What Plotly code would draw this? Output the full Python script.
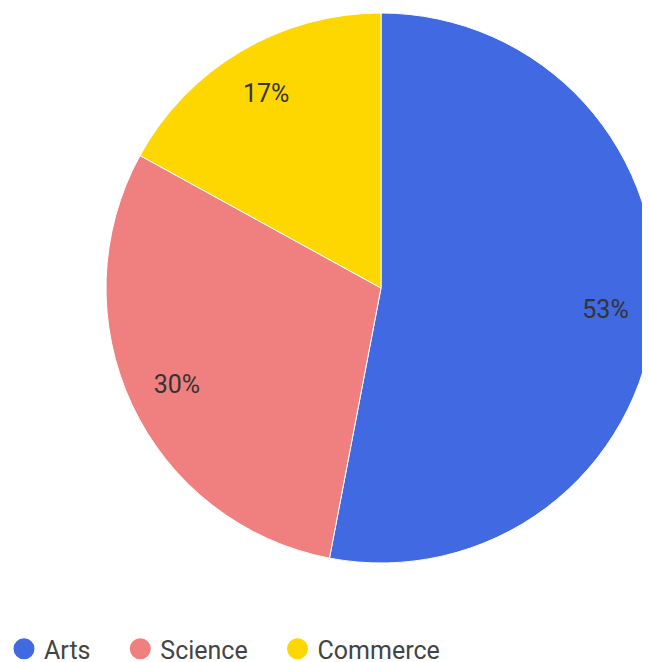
import plotly.graph_objects as go

categories = ["Arts", "Science", "Commerce"]
values = [53, 30, 17]
colors = ["#4169E1", "#F08080", "#FFD700"]

W, H = 650, 662
MB = 40                      # bottom margin reserved for the legend
PH = H - MB                  # plot-area height
FONT = "Roboto, Arial, sans-serif"

pie_domain = dict(x=[98 / W, 648 / W], y=[(PH - 555) / PH, (PH - 5) / PH])

fig = go.Figure()

# Main pie (colours only)
fig.add_trace(go.Pie(
    labels=categories,
    values=values,
    sort=False,
    direction="clockwise",
    rotation=0,
    marker=dict(colors=colors, line=dict(color="white", width=1)),
    textinfo="none",
    showlegend=False,
    hoverinfo="label+percent",
    domain=pie_domain,
))

# Transparent overlay ring used only to position percentage labels near the rim
fig.add_trace(go.Pie(
    labels=categories,
    values=values,
    sort=False,
    direction="clockwise",
    rotation=0,
    hole=0.64,
    marker=dict(colors=["rgba(0,0,0,0)"] * len(categories), line=dict(width=0)),
    texttemplate="%{percent:.0%}",
    textposition="inside",
    insidetextorientation="horizontal",
    textfont=dict(family=FONT, size=25, color="#333333"),
    showlegend=False,
    hoverinfo="skip",
    domain=pie_domain,
))

pad = "\u00a0" * 4
for cat, col in zip(categories, colors):
    fig.add_trace(go.Scatter(
        x=[None], y=[None], mode="markers", name=cat + pad,
        marker=dict(color=col, size=16, symbol="circle", line=dict(color=col, width=5)),
        showlegend=True,
    ))

fig.update_layout(
    width=W, height=H,
    margin=dict(l=0, r=0, t=0, b=MB, autoexpand=False),
    paper_bgcolor="white",
    plot_bgcolor="white",
    xaxis=dict(visible=False),
    yaxis=dict(visible=False),
    legend=dict(
        orientation="h",
        x=-4 / W, y=-(641 - PH) / PH, xanchor="left", yanchor="middle",
        font=dict(family=FONT, size=25, color="#444444"),
        itemsizing="trace",
        bgcolor="rgba(0,0,0,0)",
    ),
)

fig.write_html("out.html")
